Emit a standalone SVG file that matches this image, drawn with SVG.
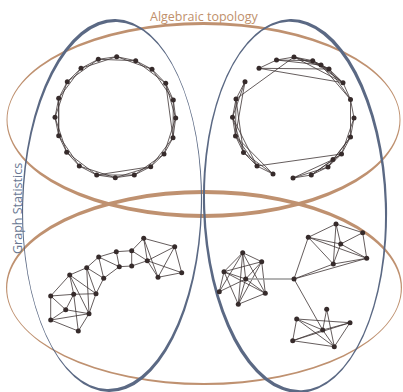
<svg xmlns="http://www.w3.org/2000/svg" width="403" height="392" viewBox="0 0 403 392">
<style>
.tan{fill:#bf9170;fill-rule:evenodd}
.blu{fill:#5b6984;fill-rule:evenodd}
.e{stroke:#3d3434;stroke-width:0.8;fill:none}
.v{fill:#362b2b}
.lbl{font-family:"Open Sans","Liberation Sans",sans-serif;font-size:12.5px}
</style>
<rect width="403" height="392" fill="#fff"/>
<g id="set-algebraic-topology">
<path class="tan" d="M6.5,120 a197,98 0 1,0 394,0 a197,98 0 1,0 -394,0 Z M7.5,119.5 a196,94.5 0 1,0 392,0 a196,94.5 0 1,0 -392,0 Z"/>
<text class="lbl" x="150" y="21" fill="#c0906b">Algebraic topology</text>
</g>
<g id="set-graph-statistics">
<path class="tan" d="M6,287.5 a198,97.5 0 1,0 396,0 a198,97.5 0 1,0 -396,0 Z M7.2,288.5 a196.8,94.5 0 1,0 393.6,0 a196.8,94.5 0 1,0 -393.6,0 Z"/>
<text class="lbl" transform="translate(22,254) rotate(-90)" fill="#6a7893">Graph Statistics</text>
</g>
<g id="set-left" transform="rotate(1 112 205.5)">
<path class="blu" d="M22,205.5 a90,186.5 0 1,0 180,0 a90,186.5 0 1,0 -180,0 Z M23.204,204.57 a88.8,183.5 0.6 1,0 177.592,1.86 a88.8,183.5 0.6 1,0 -177.592,-1.86 Z"/>
</g>
<g id="set-right" transform="rotate(-1.5 295 206)">
<path class="blu" d="M203,206 a92,187 0 1,0 184,0 a92,187 0 1,0 -184,0 Z M205.205,206.94 a89.8,184 -0.6 1,0 179.59,-1.88 a89.8,184 -0.6 1,0 -179.59,1.88 Z"/>
</g>
<g id="connectors">
<g id="edges-ring" class="e">
<path d="M116.7,56.7L135.7,60.7L152,69.3L165.7,83.3L173.3,100L175.7,118L173,137.7L164,154L150.7,166.7L134.3,175L115.3,177.7L96.7,175L79.3,166L66.7,152.3L58.7,135.7L55,117.3L58.7,98.3L67.3,81.7L81,68.3L98.3,59.3Z"/>
<path d="M116.7,56.7L152,69.3L173.3,100L173,137.7L150.7,166.7L115.3,177.7L79.3,166L58.7,135.7L58.7,98.3L81,68.3Z"/>
<path d="M135.7,60.7L165.7,83.3L175.7,118L164,154L134.3,175L96.7,175L66.7,152.3L55,117.3L67.3,81.7L98.3,59.3Z"/>
<path d="M96.7,175L150.7,166.7M165.7,83.3L173,137.7M58.7,98.3L58.7,135.7"/>
</g>
<g id="edges-scrambled" class="e">
<path d="M259,68.3L276.5,60L294,57L312.7,60.7L321,65L329,69L343,82.7L350.5,99.5L354,118L350.5,137L341.5,154L333,159.5L328,167L311.3,175L293,178"/>
<path d="M273,174L257,166L243.5,152.5L235.5,136L232.5,117.3L236,99L245,81.7"/>
<path d="M259,68.3L329,69M259,68.3L343,82.7M276.5,60L312.7,60.7M276.5,60L321,65M294,57L321,65M294,57L329,69M294,57L343,82.7M294,57L236,99M312.7,60.7L343,82.7M312.7,60.7L329,69M321,65L343,82.7M321,65L350.5,99.5M329,69L350.5,99.5"/>
<path d="M350.5,99.5L350.5,137M354,118L341.5,154M350.5,137L333,159.5M350.5,137L328,167M341.5,154L328,167M341.5,154L311.3,175M333,159.5L311.3,175M333,159.5L293,178M328,167L293,178M257,166L341.5,154"/>
<path d="M273,174L243.5,152.5M273,174L235.5,136M257,166L235.5,136M257,166L232.5,117.3M243.5,152.5L232.5,117.3M243.5,152.5L236,99M235.5,136L236,99M235.5,136L245,81.7M232.5,117.3L245,81.7"/>
</g>
<g id="edges-strip" class="e">
<path d="M143.7,238.3L174.7,246.7M143.7,238.3L131.7,250.7M143.7,238.3L147.3,260.7M143.7,238.3L158,277.3M174.7,246.7L147.3,260.7M174.7,246.7L181.7,272.7M174.7,246.7L158,277.3M181.7,272.7L158,277.3M147.3,260.7L181.7,272.7M147.3,260.7L158,277.3M147.3,260.7L131.7,266M131.7,250.7L147.3,260.7M131.7,250.7L131.7,266M131.7,250.7L116.3,251.7M116.3,251.7L119.3,266.7M119.3,266.7L131.7,266"/>
<path d="M116.3,251.7L98.7,257M98.7,257L119.3,266.7M98.7,257L86.7,267.7M98.7,257L103.7,278.3M119.3,266.7L103.7,278.3M86.7,267.7L103.7,278.3M86.7,267.7L96,293.7M103.7,278.3L96,293.7M86.7,267.7L69.7,275M69.7,275L73.7,294.3M69.7,275L50.7,296M69.7,275L89,313.7M69.7,275L96,293.7M86.7,267.7L89,313.7"/>
<path d="M50.7,296L73.7,294.3M50.7,296L50.7,320M50.7,296L65.7,309.7M73.7,294.3L65.7,309.7M73.7,294.3L96,293.7M65.7,309.7L89,313.7M65.7,309.7L50.7,320M50.7,320L89,313.7M50.7,320L78.3,331M89,313.7L78.3,331M96,293.7L89,313.7M73.7,294.3L78.3,331"/>
</g>
<g id="edges-clusters" class="e">
<path d="M242.7,252.7L261.7,261.7M242.7,252.7L224,271.7M242.7,252.7L245.7,279M242.7,252.7L265.3,293.3M242.7,252.7L238.3,304.3M242.7,252.7L219.3,291.7M261.7,261.7L224,271.7M261.7,261.7L245.7,279M261.7,261.7L265.3,293.3M261.7,261.7L238.3,304.3M224,271.7L245.7,279M224,271.7L219.3,291.7M224,271.7L265.3,293.3M224,271.7L238.3,304.3M245.7,279L219.3,291.7M245.7,279L265.3,293.3M245.7,279L238.3,304.3M265.3,293.3L238.3,304.3"/>
<path d="M294,279L308.3,237.3M294,279L333.3,264M294,279L366.7,258.3M294,279L322.7,330"/>
<path d="M336,224L362.7,232.7M336,224L308.3,237.3M336,224L340.7,244M336,224L333.3,264M362.7,232.7L340.7,244M362.7,232.7L366.7,258.3M308.3,237.3L340.7,244M308.3,237.3L333.3,264M308.3,237.3L366.7,258.3M340.7,244L333.3,264M340.7,244L366.7,258.3M333.3,264L366.7,258.3"/>
<path d="M326.7,309.3L322.7,330M326.7,309.3L334.3,346.7M296.7,319L350,322.7M296.7,319L322.7,330M296.7,319L292.7,340.7M296.7,319L334.3,346.7M350,322.7L322.7,330M350,322.7L292.7,340.7M350,322.7L334.3,346.7M322.7,330L292.7,340.7M322.7,330L334.3,346.7M292.7,340.7L334.3,346.7"/>
<path d="M245.7,279L294,279" stroke="#9a9a9a" stroke-width="1.6"/>
</g>
</g>
<g id="graph-ring" class="v">
<circle cx="116.7" cy="56.7" r="2.5"/><circle cx="135.7" cy="60.7" r="2.5"/><circle cx="152" cy="69.3" r="2.5"/><circle cx="165.7" cy="83.3" r="2.5"/><circle cx="173.3" cy="100" r="2.5"/><circle cx="175.7" cy="118" r="2.5"/><circle cx="173" cy="137.7" r="2.5"/><circle cx="164" cy="154" r="2.5"/><circle cx="150.7" cy="166.7" r="2.5"/><circle cx="134.3" cy="175" r="2.5"/><circle cx="115.3" cy="177.7" r="2.5"/><circle cx="96.7" cy="175" r="2.5"/><circle cx="79.3" cy="166" r="2.5"/><circle cx="66.7" cy="152.3" r="2.5"/><circle cx="58.7" cy="135.7" r="2.5"/><circle cx="55" cy="117.3" r="2.5"/><circle cx="58.7" cy="98.3" r="2.5"/><circle cx="67.3" cy="81.7" r="2.5"/><circle cx="81" cy="68.3" r="2.5"/><circle cx="98.3" cy="59.3" r="2.5"/>
</g>
<g id="graph-scrambled" class="v">
<circle cx="259" cy="68.3" r="2.5"/><circle cx="276.5" cy="60" r="2.5"/><circle cx="294" cy="57" r="2.5"/><circle cx="312.7" cy="60.7" r="2.5"/><circle cx="321" cy="65" r="2.5"/><circle cx="329" cy="69" r="2.5"/><circle cx="343" cy="82.7" r="2.5"/><circle cx="350.5" cy="99.5" r="2.5"/><circle cx="354" cy="118" r="2.5"/><circle cx="350.5" cy="137" r="2.5"/><circle cx="341.5" cy="154" r="2.5"/><circle cx="333" cy="159.5" r="2.5"/><circle cx="328" cy="167" r="2.5"/><circle cx="311.3" cy="175" r="2.5"/><circle cx="293" cy="178" r="2.5"/><circle cx="273" cy="174" r="2.5"/><circle cx="257" cy="166" r="2.5"/><circle cx="243.5" cy="152.5" r="2.5"/><circle cx="235.5" cy="136" r="2.5"/><circle cx="232.5" cy="117.3" r="2.5"/><circle cx="236" cy="99" r="2.5"/><circle cx="245" cy="81.7" r="2.5"/>
</g>
<g id="graph-strip" class="v">
<circle cx="143.7" cy="238.3" r="2.5"/><circle cx="174.7" cy="246.7" r="2.5"/><circle cx="181.7" cy="272.7" r="2.5"/><circle cx="158" cy="277.3" r="2.5"/><circle cx="147.3" cy="260.7" r="2.5"/><circle cx="131.7" cy="250.7" r="2.5"/><circle cx="131.7" cy="266" r="2.5"/><circle cx="119.3" cy="266.7" r="2.5"/><circle cx="116.3" cy="251.7" r="2.5"/><circle cx="98.7" cy="257" r="2.5"/><circle cx="103.7" cy="278.3" r="2.5"/><circle cx="86.7" cy="267.7" r="2.5"/><circle cx="96" cy="293.7" r="2.5"/><circle cx="69.7" cy="275" r="2.5"/><circle cx="73.7" cy="294.3" r="2.5"/><circle cx="89" cy="313.7" r="2.5"/><circle cx="50.7" cy="296" r="2.5"/><circle cx="65.7" cy="309.7" r="2.5"/><circle cx="50.7" cy="320" r="2.5"/><circle cx="78.3" cy="331" r="2.5"/>
</g>
<g id="graph-clusters" class="v">
<circle cx="242.7" cy="252.7" r="2.5"/><circle cx="261.7" cy="261.7" r="2.5"/><circle cx="224" cy="271.7" r="2.5"/><circle cx="245.7" cy="279" r="2.5"/><circle cx="219.3" cy="291.7" r="2.5"/><circle cx="265.3" cy="293.3" r="2.5"/><circle cx="238.3" cy="304.3" r="2.5"/>
<circle cx="294" cy="279" r="2.5"/>
<circle cx="336" cy="224" r="2.5"/><circle cx="362.7" cy="232.7" r="2.5"/><circle cx="308.3" cy="237.3" r="2.5"/><circle cx="340.7" cy="244" r="2.5"/><circle cx="333.3" cy="264" r="2.5"/><circle cx="366.7" cy="258.3" r="2.5"/>
<circle cx="326.7" cy="309.3" r="2.5"/><circle cx="296.7" cy="319" r="2.5"/><circle cx="350" cy="322.7" r="2.5"/><circle cx="322.7" cy="330" r="2.5"/><circle cx="292.7" cy="340.7" r="2.5"/><circle cx="334.3" cy="346.7" r="2.5"/>
</g>
</svg>
